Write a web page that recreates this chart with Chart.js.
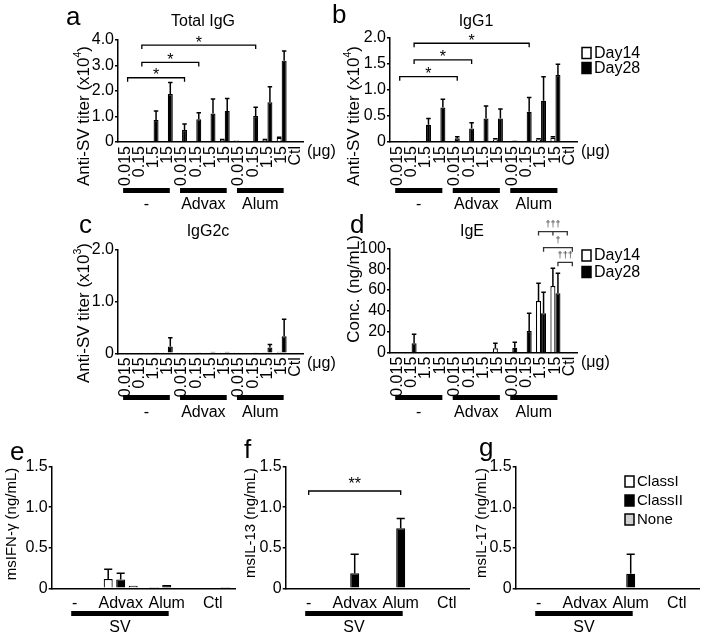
<!DOCTYPE html>
<html>
<head>
<meta charset="utf-8">
<script src="https://cdn.jsdelivr.net/npm/chart.js@4.4.1/dist/chart.umd.min.js"></script>
<style>
html, body { margin: 0; padding: 0; background: #fff; }
#wrap { position: relative; width: 707px; height: 636px; overflow: hidden; background: #fff; }
#wrap canvas { position: absolute; left: 0; top: 0; }
</style>
</head>
<body>
<div id="wrap">
  <canvas id="pa" width="707" height="636"></canvas>
  <canvas id="pb" width="707" height="636"></canvas>
  <canvas id="pc" width="707" height="636"></canvas>
  <canvas id="pd" width="707" height="636"></canvas>
  <canvas id="pe" width="707" height="636"></canvas>
  <canvas id="pf" width="707" height="636"></canvas>
  <canvas id="pg" width="707" height="636"></canvas>
</div>
<script>
const W = 707, H = 636;
const FONT = '"Liberation Sans", Arial, Helvetica, sans-serif';
Chart.defaults.font.family = FONT;
Chart.defaults.font.size = 16;
Chart.defaults.color = '#000';

// ---- panels a-d: dose x adjuvant ----
const doses = ['0.015', '0.15', '1.5', '15', '0.015', '0.15', '1.5', '15', '0.015', '0.15', '1.5', '15', 'Ctl'];
const adjuvants = ['-', 'Advax', 'Alum'];
const days = ['Day14', 'Day28'];

// a: total IgG (x10^4); *Hi = top of error bar
const iggD14 = [0, 0, 0.02, 0.03, 0, 0.02, 0.03, 0.08, 0.06, 0.02, 0.08, 0.16, 0];
const iggD14Hi = [null, null, null, null, null, null, null, 0.1, null, null, 0.1, 0.19, null];
const iggD28 = [0.02, 0.04, 0.86, 1.88, 0.47, 0.89, 1.12, 1.22, 0.03, 1.02, 1.56, 3.19, 0];
const iggD28Hi = [null, null, 1.22, 2.33, 0.71, 1.15, 1.69, 1.71, null, 1.36, 2.17, 3.57, null];
const iggTicks = ['0', '1.0', '2.0', '3.0', '4.0'];
const iggSig = [
  { from: 0, to: 4, ds: 1, y: 2.52, text: '*' },
  { from: 1, to: 5, ds: 1, y: 3.12, text: '*' },
  { from: 1, to: 9, ds: 1, y: 3.8, text: '*' }
];

// b: IgG1 (x10^4)
const igg1D14 = [0, 0.005, 0.01, 0.01, 0, 0.01, 0.01, 0.05, 0, 0.01, 0.05, 0.08, 0];
const igg1D14Hi = [null, null, null, null, null, null, null, 0.06, null, null, 0.06, 0.1, null];
const igg1D28 = [0, 0, 0.33, 0.66, 0.07, 0.26, 0.45, 0.45, 0.03, 0.58, 0.79, 1.28, 0];
const igg1D28Hi = [null, null, 0.45, 0.82, 0.1, 0.37, 0.69, 0.63, null, 0.85, 1.25, 1.49, null];
const igg1Ticks = ['0', '0.5', '1.0', '1.5', '2.0'];
const igg1Sig = [
  { from: 0, to: 4, ds: 1, y: 1.25, text: '*' },
  { from: 1, to: 5, ds: 1, y: 1.57, text: '*' },
  { from: 1, to: 9, ds: 1, y: 1.89, text: '*' }
];

// c: IgG2c (x10^3)
const igg2cD14 = [0, 0, 0, 0.01, 0.01, 0, 0.01, 0.01, 0.01, 0, 0.02, 0.03, 0];
const igg2cD28 = [0, 0, 0.02, 0.13, 0, 0.01, 0.03, 0.03, 0, 0.01, 0.11, 0.33, 0];
const igg2cD28Hi = [null, null, null, 0.3, null, null, null, null, null, null, 0.17, 0.66, null];
const igg2cTicks = ['0', '1.0', '2.0'];

// d: IgE (ng/mL)
const igeD14 = [0, 0, 0, 0, 0, 0, 0, 4.2, 0, 0, 49.5, 63.9, 0];
const igeD14Hi = [null, null, null, null, null, null, null, 9, null, null, 66.5, 80.8, null];
const igeD28 = [0, 9, 0, 0, 0, 0, 0, 0, 4.8, 20.8, 37.7, 56.9, 0];
const igeD28Hi = [null, 17.6, null, null, null, null, null, null, 10, 37.7, 57.9, 76, null];
const igeTicks = ['0', '20', '40', '60', '80', '100'];
const igeSig = [
  { from: 10, to: 12, mid: 11, ds: 0, y: 116, text: '\u2020\u2020\u2020' },
  { from: 10, to: 12, ds: 1, y: 100.6, text: '\u2020' },
  { from: 11, to: 12, ds: 1, y: 86.6, text: '\u2020\u2020\u2020' }
];

// ---- panels e-g: cytokines ----
const cells = ['-', 'Advax', 'Alum', 'Ctl'];
const mhc = ['ClassI', 'ClassII', 'None'];
const ifnI = [0, 0.115, 0.005, 0];
const ifnIHi = [null, 0.235, null, null];
const ifnII = [0.01, 0.11, 0.04, 0];
const ifnIIHi = [null, 0.185, null, null];
const ifnNone = [0, 0.03, 0, 0.005];
const il13I = [0, 0, 0, 0];
const il13II = [0, 0.185, 0.74, 0];
const il13IIHi = [null, 0.42, 0.86, null];
const il13None = [0, 0, 0, 0];
const il17I = [0, 0, 0, 0];
const il17II = [0, 0.01, 0.18, 0];
const il17IIHi = [null, null, 0.42, null];
const il17None = [0, 0, 0, 0];
const cytoTicks = ['0', '0.5', '1.0', '1.5'];
const il13Sig = [{ from: 0, to: 2, ds: 1, y: 1.2, text: '**' }];

// error bars: line from bar top to errHi with a cap
const errorBars = {
  id: 'errorBars',
  afterDatasetsDraw(chart) {
    const ctx = chart.ctx, ys = chart.scales.y;
    chart.data.datasets.forEach((ds, di) => {
      if (!ds.errHi) return;
      chart.getDatasetMeta(di).data.forEach((bar, i) => {
        const hi = ds.errHi[i];
        if (hi == null) return;
        const yt = ys.getPixelForValue(hi), half = bar.width * 0.45;
        ctx.save();
        ctx.strokeStyle = '#000';
        ctx.lineWidth = 1.5;
        ctx.beginPath();
        ctx.moveTo(bar.x, bar.y);
        ctx.lineTo(bar.x, yt);
        ctx.moveTo(bar.x - half, yt);
        ctx.lineTo(bar.x + half, yt);
        ctx.stroke();
        ctx.restore();
      });
    });
  }
};

function drawRich(ctx, parts, cx, cy, size) {
  const fonts = parts.map(p => (p[1] ? size * 0.62 : size) + 'px ' + FONT);
  const widths = parts.map((p, k) => { ctx.font = fonts[k]; return ctx.measureText(p[0]).width; });
  let x = cx - widths.reduce((s, w) => s + w, 0) / 2;
  ctx.textAlign = 'left';
  ctx.textBaseline = 'middle';
  parts.forEach((p, k) => {
    ctx.font = fonts[k];
    ctx.fillText(p[0], x, p[1] ? cy - size * 0.33 : cy);
    x += widths[k];
  });
}

// labels, group bars, brackets, legends
const deco = {
  id: 'deco',
  afterDraw(chart, args, o) {
    const ctx = chart.ctx, xs = chart.scales.x, ys = chart.scales.y, area = chart.chartArea;
    const px = (i, ds) => {
      const el = chart.getDatasetMeta(ds).data[i];
      return el ? el.x : xs.getPixelForValue(i);
    };
    ctx.save();
    ctx.fillStyle = '#000';
    ctx.strokeStyle = '#000';

    ctx.font = '26px ' + FONT;
    ctx.textAlign = 'left';
    ctx.textBaseline = 'alphabetic';
    ctx.fillText(o.letter, o.letterAt[0], o.letterAt[1]);

    if (o.title) {
      ctx.font = '16px ' + FONT;
      ctx.textAlign = 'center';
      ctx.textBaseline = 'middle';
      ctx.fillText(o.title, o.titleAt[0], o.titleAt[1]);
    }

    ctx.save();
    ctx.translate(o.yTitleAt[0], o.yTitleAt[1]);
    ctx.rotate(-Math.PI / 2);
    drawRich(ctx, o.yTitle, 0, 0, o.yTitleSize);
    ctx.restore();

    if (o.unit) {
      ctx.font = '16px ' + FONT;
      ctx.textAlign = 'left';
      ctx.textBaseline = 'middle';
      ctx.fillText(o.unit, area.right + 4, area.bottom + 10);
    }

    o.groups.forEach(g => {
      const x0 = xs.getPixelForValue(g[1]) - o.groupPad[0];
      const x1 = xs.getPixelForValue(g[2]) + o.groupPad[1];
      ctx.fillRect(x0, o.groupBarY, x1 - x0, 5);
      ctx.font = '16px ' + FONT;
      ctx.textAlign = 'center';
      ctx.textBaseline = 'middle';
      ctx.fillText(g[0], (x0 + x1) / 2, o.groupLabelY);
    });

    (o.brackets || []).forEach(b => {
      const x0 = px(b.from, b.ds), x1 = px(b.to, b.ds), yy = ys.getPixelForValue(b.y);
      ctx.lineWidth = 1.3;
      ctx.strokeStyle = o.bracketColor || '#000';
      ctx.beginPath();
      ctx.moveTo(x0, yy + 4);
      ctx.lineTo(x0, yy);
      ctx.lineTo(x1, yy);
      ctx.lineTo(x1, yy + 4);
      if (b.mid != null) {
        const xm = px(b.mid, b.ds);
        ctx.moveTo(xm, yy);
        ctx.lineTo(xm, yy + 4);
      }
      ctx.stroke();
      ctx.fillStyle = o.bracketColor || '#000';
      ctx.font = o.bracketFont;
      ctx.textAlign = 'center';
      ctx.textBaseline = 'middle';
      ctx.fillText(b.text, (x0 + x1) / 2, yy - o.bracketDy);
    });

    if (o.legend) {
      const L = o.legend;
      L.names.forEach((name, k) => {
        const y = L.y + k * L.dy;
        ctx.fillStyle = L.fills[k];
        ctx.fillRect(L.x, y, L.box[0], L.box[1]);
        ctx.lineWidth = 1.5;
        ctx.strokeStyle = '#000';
        ctx.strokeRect(L.x, y, L.box[0], L.box[1]);
        ctx.fillStyle = '#000';
        ctx.font = L.size + 'px ' + FONT;
        ctx.textAlign = 'left';
        ctx.textBaseline = 'middle';
        ctx.fillText(name, L.x + L.box[0] + 3, y + L.box[1] / 2 + 0.5);
      });
    }
    ctx.restore();
  }
};

const Y_W = 40;   // room for y tick labels (labels are clipped to the scale box)
function barChart(id, cfg) {
  const [L, T, R, B] = cfg.rect;
  const xH = cfg.xH;
  return new Chart(document.getElementById(id), {
    type: 'bar',
    data: {
      labels: cfg.labels,
      datasets: cfg.datasets.map(d => Object.assign({
        borderColor: '#000', borderWidth: 1.2, borderSkipped: 'start',
        categoryPercentage: cfg.catPct, barPercentage: cfg.barPct
      }, d))
    },
    options: {
      responsive: false, animation: false, devicePixelRatio: 1, events: [],
      layout: { autoPadding: false, padding: { left: L - Y_W, top: T, right: W - R, bottom: H - B - xH } },
      plugins: { legend: { display: false }, tooltip: { enabled: false }, deco: cfg.deco },
      scales: {
        x: {
          afterFit: s => { s.height = xH; },
          grid: { display: false, drawTicks: false },
          border: { color: '#000', width: 1.5 },
          ticks: { autoSkip: false, minRotation: cfg.rot, maxRotation: cfg.rot, padding: cfg.xPad, font: { size: 16 } }
        },
        y: {
          min: 0, max: cfg.yMax,
          afterFit: s => { s.width = Y_W; },
          grid: { drawOnChartArea: false, tickLength: 3, color: '#000', lineWidth: 1.5 },
          border: { color: '#000', width: 1.5 },
          ticks: { autoSkip: false, stepSize: cfg.yStep, padding: 1, font: { size: 16 }, callback: (v, i) => cfg.yTicks[i] }
        }
      }
    },
    plugins: [errorBars, deco]
  });
}

const doseGroups = [[adjuvants[0], 0, 3], [adjuvants[1], 4, 7], [adjuvants[2], 8, 11]];
const svGroup = [['SV', 0, 2]];

function dayChart(id, rect, d14, d14Hi, d28, d28Hi, yMax, yStep, yTicks, deco) {
  barChart(id, {
    rect, xH: 52, labels: doses, rot: 90, xPad: 4, catPct: 0.7, barPct: 1.0,
    yMax, yStep, yTicks,
    datasets: [
      { label: days[0], data: d14, errHi: d14Hi, backgroundColor: '#fff' },
      { label: days[1], data: d28, errHi: d28Hi, backgroundColor: '#000' }
    ],
    deco: Object.assign({ unit: '(\u03bcg)', groups: doseGroups, groupPad: [2, 2], bracketFont: '16px ' + FONT, bracketDy: 2, yTitleSize: 17 }, deco)
  });
}

function cytoChart(id, rect, cI, cIHi, cII, cIIHi, cNone, deco) {
  barChart(id, {
    rect, xH: 40, labels: cells, rot: 0, xPad: 6, catPct: 0.815, barPct: 0.72,
    yMax: 1.5, yStep: 0.5, yTicks: cytoTicks,
    datasets: [
      { label: mhc[0], data: cI, errHi: cIHi, backgroundColor: '#fff' },
      { label: mhc[1], data: cII, errHi: cIIHi, backgroundColor: '#000' },
      { label: mhc[2], data: cNone, backgroundColor: '#cfcfcf' }
    ],
    deco: Object.assign({ groups: svGroup, groupPad: [3.5, 2], groupBarY: 611, groupLabelY: 628, bracketFont: '16px ' + FONT, bracketDy: 6, yTitleSize: 15 }, deco)
  });
}

dayChart('pa', [118, 40, 303, 142], iggD14, iggD14Hi, iggD28, iggD28Hi, 4, 1, iggTicks, {
  letter: 'a', letterAt: [66, 25], title: 'Total IgG', titleAt: [203, 22],
  yTitle: [['Anti-SV titer (x10'], ['4', true], [')']], yTitleAt: [84, 116],
  groupBarY: 188, groupLabelY: 205, brackets: iggSig
});
dayChart('pb', [390, 37.5, 577, 142], igg1D14, igg1D14Hi, igg1D28, igg1D28Hi, 2, 0.5, igg1Ticks, {
  letter: 'b', letterAt: [332, 23], title: 'IgG1', titleAt: [476, 22],
  yTitle: [['Anti-SV titer (x10'], ['4', true], [')']], yTitleAt: [354, 116],
  groupBarY: 188, groupLabelY: 205, brackets: igg1Sig,
  legend: { names: days, fills: ['#fff', '#000'], x: 582, y: 47.5, dy: 15, box: [9, 11], size: 16 }
});
dayChart('pc', [118, 250, 303, 353.3], igg2cD14, null, igg2cD28, igg2cD28Hi, 2, 1, igg2cTicks, {
  letter: 'c', letterAt: [79, 233], title: 'IgG2c', titleAt: [208, 232],
  yTitle: [['Anti-SV titer (x10'], ['3', true], [')']], yTitleAt: [84, 313],
  groupBarY: 395, groupLabelY: 413
});
dayChart('pd', [390, 248.3, 577, 352.7], igeD14, igeD14Hi, igeD28, igeD28Hi, 100, 20, igeTicks, {
  letter: 'd', letterAt: [350, 233], title: 'IgE', titleAt: [472, 232],
  yTitle: [['Conc. (ng/mL)']], yTitleAt: [354, 289],
  groupBarY: 395, groupLabelY: 413, brackets: igeSig, bracketFont: '9px ' + FONT, bracketDy: 7, bracketColor: '#333',
  legend: { names: days, fills: ['#fff', '#000'], x: 582, y: 250, dy: 16.5, box: [9, 11], size: 16 }
});

cytoChart('pe', [51.7, 466.7, 235.7, 588.3], ifnI, ifnIHi, ifnII, ifnIIHi, ifnNone, {
  letter: 'e', letterAt: [10, 460], yTitle: [['msIFN-\u03b3 (ng/mL)']], yTitleAt: [12, 524]
});
cytoChart('pf', [285.7, 466.7, 469.7, 588.3], il13I, null, il13II, il13IIHi, il13None, {
  letter: 'f', letterAt: [244, 458], yTitle: [['msIL-13 (ng/mL)']], yTitleAt: [251, 523], brackets: il13Sig
});
cytoChart('pg', [515.7, 467, 699.7, 588.3], il17I, null, il17II, il17IIHi, il17None, {
  letter: 'g', letterAt: [479, 456], yTitle: [['msIL-17 (ng/mL)']], yTitleAt: [482, 523],
  legend: { names: mhc, fills: ['#fff', '#000', '#cfcfcf'], x: 625, y: 476, dy: 19, box: [9, 11], size: 15 }
});
</script>
</body>
</html>
